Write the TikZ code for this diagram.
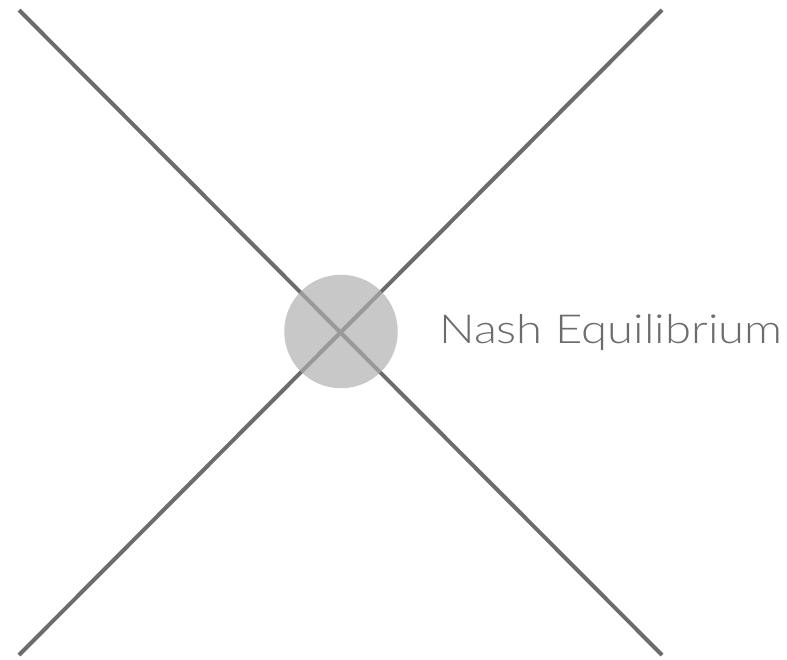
\documentclass[tikz,border=0pt]{standalone}
\usepackage{fontspec}
\setmainfont{Liberation Sans}
\newfontfamily\lightfont{Lato Light}
\definecolor{linegray}{HTML}{6E6B6B}
\definecolor{dotgray}{HTML}{AFAEAE}
\begin{document}
\begin{tikzpicture}[x=1pt,y=-1pt,
  crossline/.style={draw=linegray,line width=4pt},
  eqdot/.style={circle,fill=dotgray,fill opacity=0.68,minimum size=113.5pt,inner sep=0pt},
  label/.style={text=linegray,font=\lightfont\fontsize{40}{40}\selectfont,anchor=base west,inner sep=0pt,xscale=1.18}]
\useasboundingbox (0,0) rectangle (787,659);
\coordinate (tl) at (19,10);
\coordinate (tr) at (662,10);
\coordinate (bl) at (19,655);
\coordinate (br) at (662,655);
\draw[crossline] (tl) -- (br);
\draw[crossline] (tr) -- (bl);
\node[eqdot] (ne) at (341,331.5) {};
\node[label] (nl) at (439,343) {Nash Equilibrium};
\end{tikzpicture}
\end{document}
